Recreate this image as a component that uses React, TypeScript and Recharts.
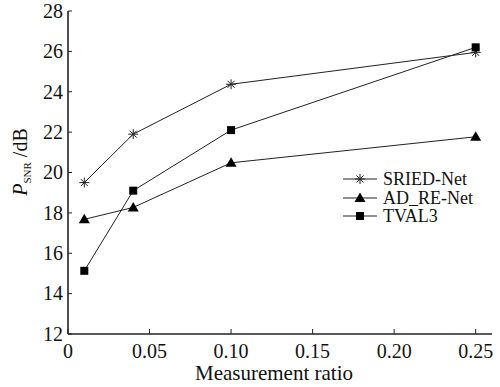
import { Legend, Line, LineChart, XAxis, YAxis } from "recharts";

const ratios = [0.01, 0.04, 0.1, 0.25];
const sriedNet = [19.5, 21.9, 24.37, 25.95];
const adReNet = [17.68, 18.27, 20.48, 21.77];
const tval3 = [15.13, 19.1, 22.1, 26.2];

const xTicks = [0, 0.05, 0.1, 0.15, 0.2, 0.25];
const yTicks = [12, 14, 16, 18, 20, 22, 24, 26, 28];

const FONT = "'Liberation Serif', 'DejaVu Serif', serif";
const INK = "#222";

const data = ratios.map((r, i) => ({
  ratio: r,
  sried: sriedNet[i],
  adre: adReNet[i],
  tval: tval3[i],
}));

const StarDot = (props: any) => {
  const { cx, cy } = props;
  if (cx == null || cy == null) return null;
  const r = 5;
  const d = r * 0.7;
  return (
    <g stroke={INK} strokeWidth={1}>
      <line x1={cx - r} y1={cy} x2={cx + r} y2={cy} />
      <line x1={cx} y1={cy - r} x2={cx} y2={cy + r} />
      <line x1={cx - d} y1={cy - d} x2={cx + d} y2={cy + d} />
      <line x1={cx - d} y1={cy + d} x2={cx + d} y2={cy - d} />
    </g>
  );
};

const TriDot = (props: any) => {
  const { cx, cy } = props;
  if (cx == null || cy == null) return null;
  return (
    <polygon
      points={`${cx},${cy - 5.5} ${cx + 5.5},${cy + 4} ${cx - 5.5},${cy + 4}`}
      fill="#000"
    />
  );
};

const SquareDot = (props: any) => {
  const { cx, cy } = props;
  if (cx == null || cy == null) return null;
  return <rect x={cx - 4} y={cy - 4} width={8} height={8} fill="#000" />;
};

const series = [
  { key: "sried", label: "SRIED-Net", dot: StarDot },
  { key: "adre", label: "AD_RE-Net", dot: TriDot },
  { key: "tval", label: "TVAL3", dot: SquareDot },
];

const renderLegend = () => (
  <div style={{ fontFamily: FONT, fontSize: 18, color: "#111" }}>
    {series.map((s) => {
      const Dot = s.dot;
      return (
        <div
          key={s.key}
          style={{ display: "flex", alignItems: "center", height: 18.5 }}
        >
          <svg width={36} height={14} style={{ display: "block" }}>
            <line x1={0} y1={7} x2={34} y2={7} stroke={INK} strokeWidth={1} />
            <Dot cx={17} cy={7} />
          </svg>
          <span style={{ marginLeft: 4, lineHeight: "18px" }}>{s.label}</span>
        </div>
      );
    })}
  </div>
);

const yLabel = () => (
  <text
    transform="translate(27,162) rotate(-90)"
    textAnchor="middle"
    fontFamily={FONT}
    fontSize={20}
    fill="#111"
  >
    <tspan fontStyle="italic">P</tspan>
    <tspan fontSize={11} dy={4}>
      SNR
    </tspan>
    <tspan dy={-4}> /dB</tspan>
  </text>
);

const xLabel = () => (
  <text
    x={274}
    y={380}
    textAnchor="middle"
    fontFamily={FONT}
    fontSize={21}
    fill="#111"
  >
    Measurement ratio
  </text>
);

const fmtX = (v: number) => (v === 0 ? "0" : v.toFixed(2));

const XTick = (props: any) => {
  const { x, y, payload } = props;
  return (
    <text
      x={x}
      y={y}
      dy="0.68em"
      textAnchor="middle"
      fontFamily={FONT}
      fontSize={20}
      fill="#111"
    >
      {fmtX(payload.value)}
    </text>
  );
};

const YTick = (props: any) => {
  const { x, y, payload } = props;
  return (
    <text
      x={x}
      y={y}
      dy="0.34em"
      textAnchor="end"
      fontFamily={FONT}
      fontSize={20}
      fill="#111"
    >
      {payload.value}
    </text>
  );
};

export default function App() {
  return (
    <div
      style={{
        position: "absolute",
        left: 0,
        top: 0,
        background: "#fff",
        fontFamily: FONT,
      }}
    >
      <LineChart
        width={500}
        height={387}
        data={data}
        margin={{ top: 11, right: 8, left: 0, bottom: 0 }}
      >
        <XAxis
          dataKey="ratio"
          type="number"
          domain={[0, 0.26]}
          ticks={xTicks}
          height={53}
          tickSize={-5}
          tickMargin={15}
          axisLine={{ stroke: INK, strokeWidth: 1.6 }}
          tickLine={{ stroke: INK, strokeWidth: 1 }}
          tick={XTick}
          label={xLabel}
          interval={0}
        />
        <XAxis
          xAxisId="top"
          dataKey="ratio"
          type="number"
          domain={[0, 0.26]}
          orientation="top"
          height={0}
          tick={false}
          tickLine={false}
          axisLine={{ stroke: INK, strokeWidth: 1 }}
        />
        <YAxis
          type="number"
          domain={[12, 28]}
          ticks={yTicks}
          width={68}
          tickSize={-4}
          tickMargin={9}
          axisLine={{ stroke: INK, strokeWidth: 1.6 }}
          tickLine={{ stroke: INK, strokeWidth: 1 }}
          tick={YTick}
          label={yLabel}
          interval={0}
        />
        <YAxis
          yAxisId="right"
          orientation="right"
          type="number"
          domain={[12, 28]}
          width={0}
          tick={false}
          tickLine={false}
          axisLine={{ stroke: INK, strokeWidth: 1 }}
        />
        <Legend
          content={renderLegend}
          layout="vertical"
          align="center"
          verticalAlign="middle"
          wrapperStyle={{ left: 343, top: 170, width: "auto" }}
        />
        {series.map((s) => (
          <Line
            key={s.key}
            dataKey={s.key}
            name={s.label}
            stroke={INK}
            strokeWidth={1}
            dot={s.dot}
            activeDot={false}
            isAnimationActive={false}
          />
        ))}
      </LineChart>
    </div>
  );
}
